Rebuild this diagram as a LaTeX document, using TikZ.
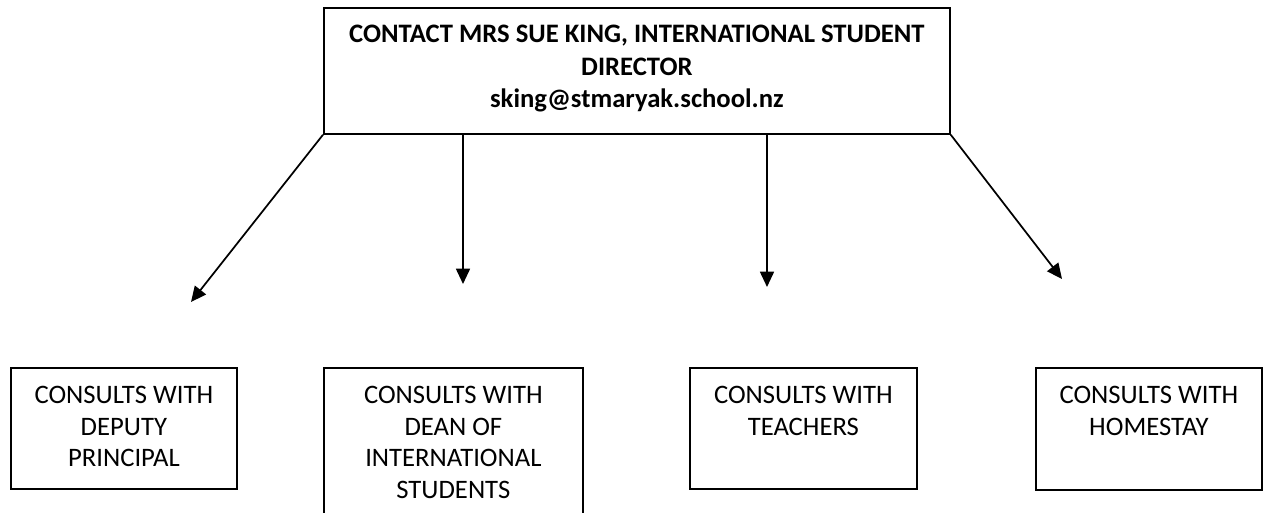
\documentclass[tikz,border=0pt]{standalone}
\usepackage{fontspec}
\setmainfont{Carlito}
\usetikzlibrary{arrows.meta}
\begin{document}
\begin{tikzpicture}[x=0.75pt,y=-0.75pt,
  box/.style={draw, line width=1.3pt, inner sep=0pt, anchor=north west},
  lbl/.style={anchor=north, inner sep=0pt, align=center, font=\fontsize{20}{23.6}\selectfont},
  hlbl/.style={lbl, font=\bfseries\fontsize{20}{24.4}\selectfont},
  arr/.style={line width=1.3pt, -{Triangle[length=11.5pt,width=10.5pt]}}]
\useasboundingbox (0,0) rectangle (1269,513);
\clip (0,0) rectangle (1269,513);
% boxes
\node[box, minimum width=469.5pt, minimum height=94.5pt] (top) at (323,7) {};
\node[box, minimum width=169.5pt, minimum height=90.75pt] (b1) at (10,367) {};
\node[box, minimum width=194.25pt, minimum height=120pt] (b2) at (323,367) {};
\node[box, minimum width=170.25pt, minimum height=90.75pt] (b3) at (689,367) {};
\node[box, minimum width=169.5pt, minimum height=91.5pt] (b4) at (1035,367) {};
% texts
\node[hlbl] (t0) at ([yshift=-13.5pt]top.north) {CONTACT MRS SUE KING, INTERNATIONAL STUDENT\\DIRECTOR\\sking@stmaryak.school.nz};
\node[lbl] (t1) at ([yshift=-14.5pt]b1.north) {CONSULTS WITH\\DEPUTY\\PRINCIPAL};
\node[lbl] (t2) at ([yshift=-14.5pt]b2.north) {CONSULTS WITH\\DEAN OF\\INTERNATIONAL\\STUDENTS};
\node[lbl] (t3) at ([yshift=-14.5pt]b3.north) {CONSULTS WITH\\TEACHERS};
\node[lbl] (t4) at ([yshift=-14.5pt]b4.north) {CONSULTS WITH\\HOMESTAY};
% arrow ends
\coordinate (e1) at (191,302);
\coordinate (e2) at (463,284);
\coordinate (e3) at (767,287);
\coordinate (e4) at (1062,279);
\draw[arr] (top.south west) -- (e1);
\draw[arr] (top.south -| e2) -- (e2);
\draw[arr] (top.south -| e3) -- (e3);
\draw[arr] (top.south east) -- (e4);
\end{tikzpicture}
\end{document}
